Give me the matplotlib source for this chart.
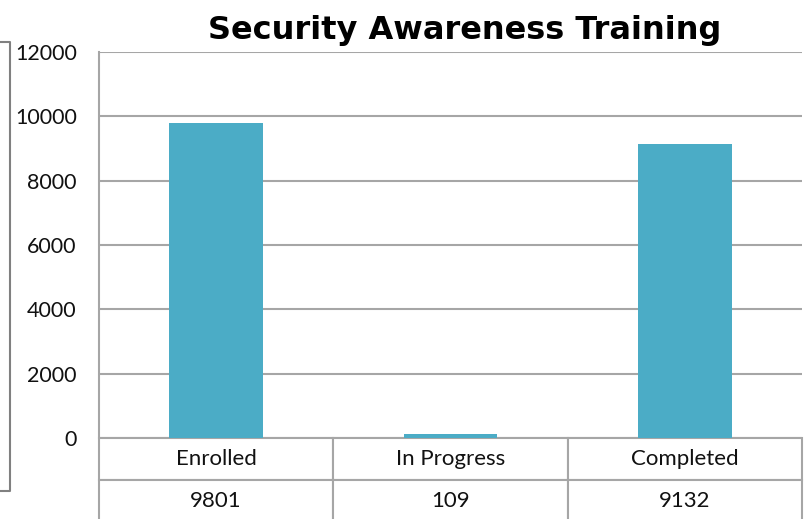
import matplotlib
matplotlib.use("Agg")
import matplotlib.pyplot as plt
from matplotlib.lines import Line2D

# values
categories = ["Enrolled", "In Progress", "Completed"]
counts = [9801, 109, 9132]
yticks = [0, 2000, 4000, 6000, 8000, 10000, 12000]

bar_color = "#4BACC6"
line_color = "#A6A6A6"
text_color = "#111111"

fig = plt.figure(figsize=(8.09, 5.19), dpi=100)
# plot area: x 99..802, y 52..438 (pixels from top)
ax = fig.add_axes([99 / 809, 1 - 438 / 519, (802 - 99) / 809, (438 - 52) / 519])

x = range(len(categories))
ax.bar(x, counts, width=0.4, color=bar_color, zorder=3)
ax.set_xlim(-0.5, len(categories) - 0.5)
ax.set_ylim(0, 12000)
ax.set_yticks(yticks)
ax.set_yticklabels([str(t) for t in yticks], fontsize=15.5, family="Lato", color=text_color)
ax.tick_params(axis="y", length=0, pad=16)
ax.set_xticks([])
ax.grid(axis="y", color=line_color, linewidth=1.5, zorder=0)
for side in ["top", "right", "bottom"]:
    ax.spines[side].set_visible(False)
ax.spines["left"].set_color(line_color)
ax.spines["left"].set_linewidth(1.5)

# data table under the bars
row_h = 42 / 386
tbl = ax.table(cellText=[[str(c) for c in counts]], colLabels=categories,
               cellLoc="center", bbox=[0, -2 * row_h, 1, 2 * row_h])
tbl.auto_set_font_size(False)
for cell in tbl.get_celld().values():
    cell.set_edgecolor(line_color)
    cell.set_linewidth(1.5)
    cell.get_text().set_fontsize(16)
    cell.get_text().set_family("Lato")
    cell.get_text().set_color(text_color)

fig.text(465 / 809, 1 - 30 / 519, "Security Awareness Training", ha="center", va="center",
         fontsize=23, fontweight="bold", family="DejaVu Sans")

# bracket line at the far left
fig.add_artist(Line2D([0, 10 / 809, 10 / 809, 0], [1 - 42 / 519, 1 - 42 / 519, 1 - 491 / 519, 1 - 491 / 519],
                      color="#808080", linewidth=1.5))

fig.savefig("out.png", dpi=100)
